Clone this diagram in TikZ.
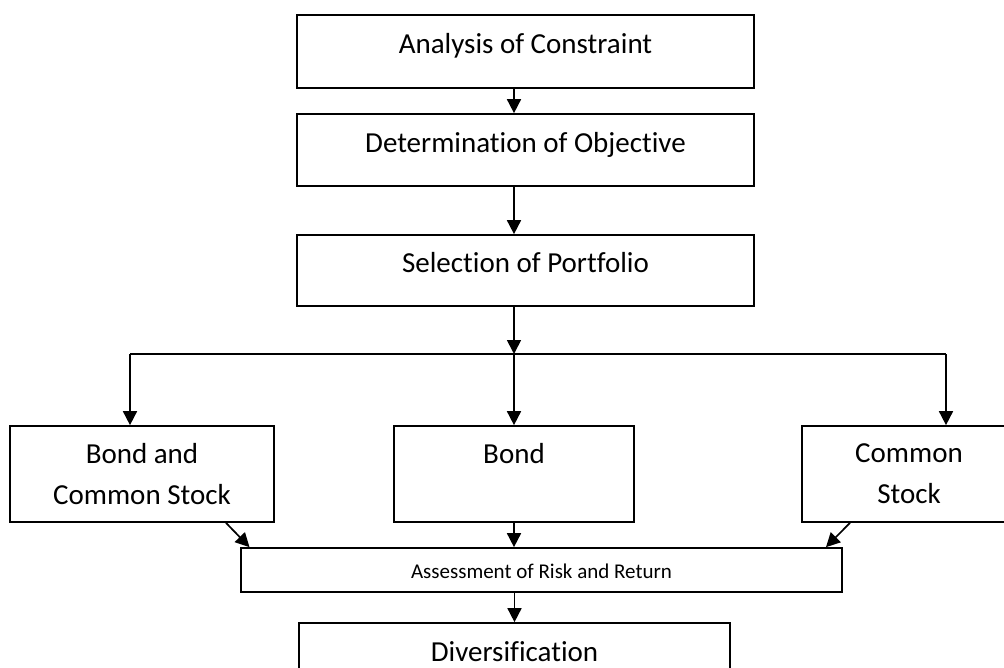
\documentclass[tikz,border=0pt]{standalone}
\usepackage{fontspec}
\setmainfont[Ligatures=NoCommon]{Carlito}
\usetikzlibrary{arrows.meta}
\begin{document}
\begin{tikzpicture}[x=1pt,y=-1pt,
  box/.style={draw, line width=1.7pt, fill=white, inner sep=0pt, align=center},
  arr/.style={line width=1.7pt, -{Triangle[width=14pt,length=14pt]}},
  ln/.style={line width=1.7pt},
  big/.style={font=\fontsize{29}{41}\selectfont},
  one/.style={big, text height=20pt, text depth=16pt},
  small/.style={font=\fontsize{21}{25}\selectfont, text height=16pt, text depth=0pt}]
\useasboundingbox (0,0) rectangle (1004,667);
\clip (0,0) rectangle (1004,667);
\fill[white] (0,0) rectangle (1004,667);
\node[box, one, minimum width=457pt, minimum height=73pt] (a) at (525.5,51.5) {Analysis of Constraint};
\node[box, one, minimum width=457pt, minimum height=72pt] (b) at (525.5,150) {Determination of Objective};
\node[box, one, minimum width=457pt, minimum height=71pt] (c) at (525.5,270.5) {Selection of Portfolio};
\node[box, big, minimum width=264pt, minimum height=96pt] (bcs) at (142,474) {Bond and\\Common Stock};
\node[box, big, minimum width=240pt, minimum height=96pt] (bond) at (514,474) {Bond\\\phantom{Stock}};
\node[box, big, minimum width=214pt, minimum height=96pt] (cs) at (909,474) {Common\\Stock};
\node[box, small, minimum width=601pt, minimum height=44pt] (ass) at (541.5,570) {Assessment of Risk and Return};
\node[box, one, minimum width=431pt, minimum height=72pt] (div) at (514.5,659) {Diversification};
\coordinate (j) at (514,354);
\coordinate (jl) at (130,354);
\coordinate (jr) at (946,354);
\draw[arr] (a.south -| j) -- (b.north -| j);
\draw[arr] (b.south -| j) -- (c.north -| j);
\draw[arr] (c.south -| j) -- (j);
\draw[ln] (jl) -- (jr);
\draw[arr] (jl) -- (jl |- bcs.north);
\draw[arr] (j) -- (bond.north);
\draw[arr] (jr) -- (jr |- cs.north);
\draw[arr] ([xshift=84pt]bcs.south) -- ([xshift=-292pt]ass.north);
\draw[arr] (bond.south) -- (bond.south |- ass.north);
\draw[arr] ([xshift=-59pt]cs.south) -- ([xshift=284.5pt]ass.north);
\draw[arr] (div.north |- ass.south) -- (div.north);
\end{tikzpicture}
\end{document}
